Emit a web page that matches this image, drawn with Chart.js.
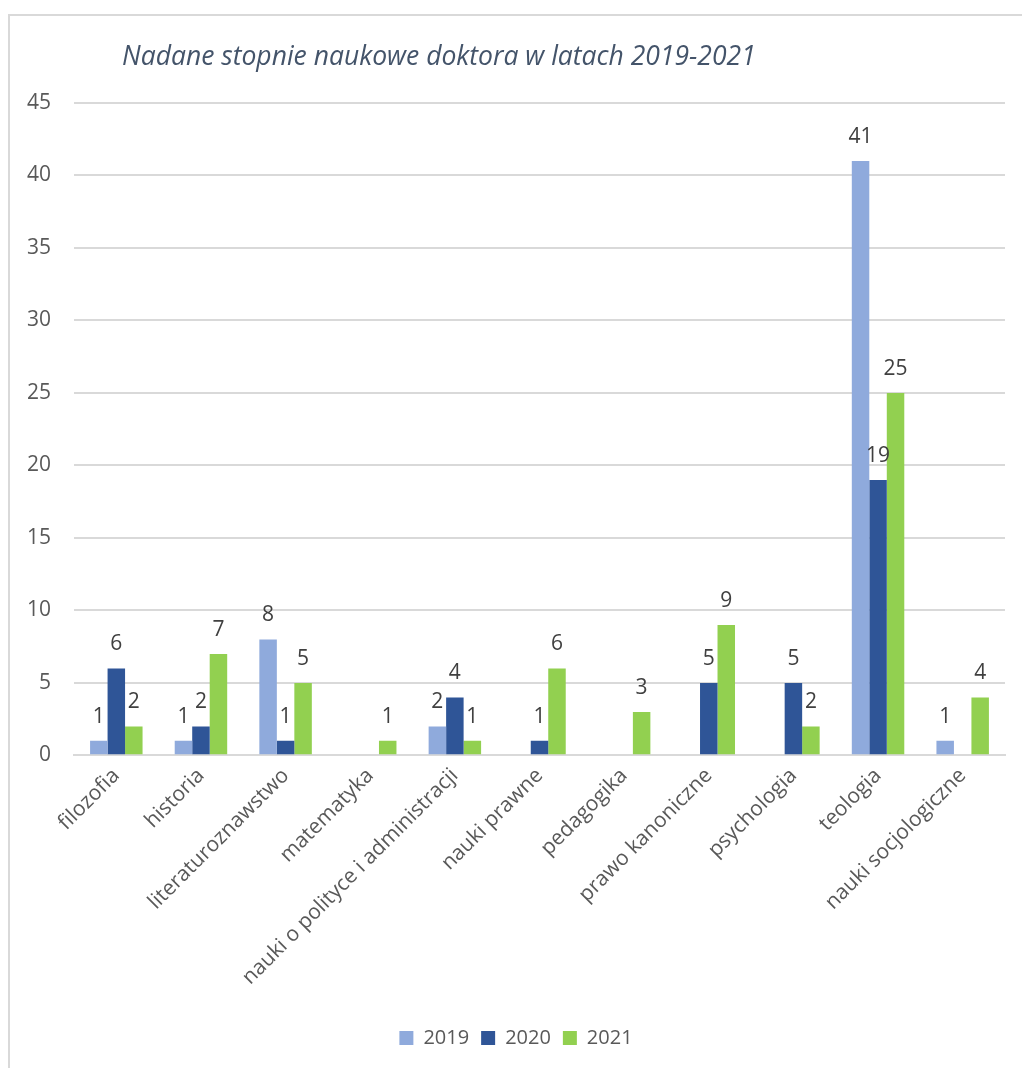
<!DOCTYPE html>
<html>
<head>
<meta charset="utf-8">
<script src="https://cdn.jsdelivr.net/npm/chart.js@4.4.1/dist/chart.umd.min.js"></script>
<style>
	html, body { margin: 0; padding: 0; background: #fff; }
	#frame {
		position: absolute; left: 8px; top: 14px; width: 1030px; height: 1070px;
		border-left: 2px solid #d9d9d9; border-top: 2px solid #d9d9d9;
	}
	#wrap { position: absolute; left: 0; top: 0; width: 1022px; height: 1068px; }
</style>
</head>
<body>
<div id="frame"></div>
<div id="wrap"><canvas id="chart"></canvas></div>
<script>
	// Chart data.
	const titleText = 'Nadane stopnie naukowe doktora w latach 2019-2021';
	const categories = [
		'filozofia', 'historia', 'literaturoznawstwo', 'matematyka',
		'nauki o polityce i administracji', 'nauki prawne', 'pedagogika',
		'prawo kanoniczne', 'psychologia', 'teologia', 'nauki socjologiczne'
	];
	const years = ['2019', '2020', '2021'];
	const values2019 = [1, 1, 8, null, 2, null, null, null, null, 41, 1];
	const values2020 = [6, 2, 1, null, 4, 1, null, 5, 5, 19, null];
	const values2021 = [2, 7, 5, 1, 1, 6, 3, 9, 2, 25, 4];
	const yTicks = [0, 5, 10, 15, 20, 25, 30, 35, 40, 45];

	const FONT = "'Open Sans', Lato, sans-serif";

	// Value labels above bars.
	const valueLabels = {
		id: 'valueLabels',
		afterDatasetsDraw(chart) {
			const ctx = chart.ctx;
			ctx.save();
			ctx.font = '21px ' + FONT;
			ctx.fillStyle = '#404040';
			ctx.textAlign = 'center';
			ctx.textBaseline = 'alphabetic';
			chart.data.datasets.forEach(function(ds, i) {
				const meta = chart.getDatasetMeta(i);
				meta.data.forEach(function(bar, j) {
					const v = ds.data[j];
					if (v === null || v === undefined) {
						return;
					}
					ctx.fillText(String(v), bar.x, bar.y - 18);
				});
			});
			ctx.restore();
		}
	};

	// Title placed left of centre, as in the source.
	const leftTitle = {
		id: 'leftTitle',
		afterDraw(chart) {
			const ctx = chart.ctx;
			ctx.save();
			ctx.font = 'italic 26.5px ' + FONT;
			ctx.fillStyle = '#44546a';
			ctx.textAlign = 'left';
			ctx.textBaseline = 'middle';
			ctx.fillText(titleText, 122, 57);
			ctx.restore();
		}
	};

	new Chart(document.getElementById('chart'), {
		type: 'bar',
		data: {
			labels: categories,
			datasets: [
				{ label: years[0], data: values2019, backgroundColor: '#8faadc' },
				{ label: years[1], data: values2020, backgroundColor: '#2f5597' },
				{ label: years[2], data: values2021, backgroundColor: '#92d050' }
			]
		},
		options: {
			responsive: true,
			maintainAspectRatio: false,
			animation: false,
			devicePixelRatio: 1,
			datasets: {
				bar: {
					categoryPercentage: 0.62,
					barPercentage: 1.0,
					skipNull: false
				}
			},
			layout: {
				padding: { left: 27, right: 17, top: 103, bottom: 10 }
			},
			plugins: {
				title: { display: false },
				tooltip: { enabled: false },
				legend: {
					display: true,
					position: 'bottom',
					labels: {
						boxWidth: 14,
						boxHeight: 14,
						padding: 12,
						color: '#595959',
						font: { size: 20, family: FONT }
					}
				}
			},
			scales: {
				x: {
					afterFit(scale) {
						// rotated labels may hang past the plot edge, like in Excel
						scale.paddingLeft = 0;
						scale.paddingRight = 0;
						// keep the gap above the legend
						scale.height += 18;
					},
					grid: { display: false, drawTicks: false },
					border: { display: true, color: '#d9d9d9', width: 2 },
					ticks: {
						minRotation: 45,
						maxRotation: 45,
						padding: 8,
						color: '#595959',
						font: { size: 21, family: FONT }
					}
				},
				y: {
					min: 0,
					max: 45,
					afterBuildTicks(scale) {
						scale.ticks = yTicks.map(function(v) { return { value: v }; });
					},
					afterFit(scale) {
						scale.width = 47;
					},
					grid: { color: '#d9d9d9', lineWidth: 2, drawTicks: false },
					border: { display: false },
					ticks: {
						padding: 23,
						color: '#595959',
						font: { size: 21, family: FONT }
					}
				}
			}
		},
		plugins: [valueLabels, leftTitle]
	});
</script>
</body>
</html>
